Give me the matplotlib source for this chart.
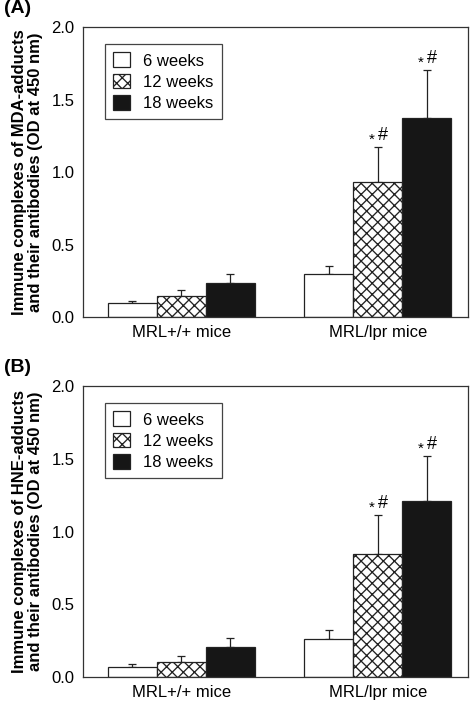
import matplotlib
matplotlib.use("Agg")
import matplotlib.pyplot as plt
import numpy as np

plt.rcParams["font.family"] = ["Liberation Sans", "DejaVu Sans"]
plt.rcParams["hatch.linewidth"] = 0.95

groups = ["MRL+/+ mice", "MRL/lpr mice"]
weeks = ["6 weeks", "12 weeks", "18 weeks"]

# panel A: MDA-adducts
mda_mean = [[0.10, 0.30], [0.145, 0.93], [0.237, 1.37]]
mda_err = [[0.012, 0.055], [0.04, 0.245], [0.06, 0.335]]
# panel B: HNE-adducts
hne_mean = [[0.07, 0.263], [0.103, 0.843], [0.208, 1.209]]
hne_err = [[0.022, 0.062], [0.039, 0.27], [0.059, 0.311]]

sig = [[False, False], [False, True], [False, True]]

colors = ["white", "white", "#161616"]
hatches = [None, "xxx", None]


def panel(ax, means, errs, ylabel, tag):
    x = np.arange(len(groups))
    w = 0.25
    for i in range(3):
        xs = x + (i - 1) * w
        ax.bar(xs, means[i], w, color=colors[i], edgecolor="#222222", lw=0.9,
               hatch=hatches[i], label=weeks[i], zorder=2)
        ax.errorbar(xs, means[i], yerr=[np.zeros(2), errs[i]], fmt="none",
                    ecolor="#222222", elinewidth=0.9, capsize=3, capthick=0.9, zorder=1)
        for j in range(2):
            if sig[i][j]:
                top = means[i][j] + errs[i][j]
                ax.annotate("*", (xs[j], top), xytext=(-4, 0), textcoords="offset points",
                            ha="center", va="bottom", fontsize=11)
                ax.annotate("#", (xs[j], top), xytext=(4, 2), textcoords="offset points",
                            ha="center", va="bottom", fontsize=13)
    ax.set_xlim(-0.5, 1.46)
    ax.set_ylim(0, 2.0)
    ax.set_yticks([0, 0.5, 1.0, 1.5, 2.0])
    ax.set_yticklabels(["0.0", "0.5", "1.0", "1.5", "2.0"])
    ax.set_xticks(x)
    ax.set_xticklabels(groups)
    ax.tick_params(length=0, labelsize=12, pad=6)
    for s in ax.spines.values():
        s.set_color("#333333")
        s.set_linewidth(0.9)
    ax.set_ylabel(ylabel, fontsize=12, fontweight="bold", labelpad=6, linespacing=1.1)
    leg = ax.legend(loc="upper left", bbox_to_anchor=(0.035, 0.97), fontsize=12,
                    fancybox=False, framealpha=1, edgecolor="#444444",
                    handlelength=1.0, handleheight=1.0, handletextpad=0.8,
                    borderpad=0.5, labelspacing=0.3)
    leg.get_frame().set_linewidth(0.9)
    ax.text(-0.205, 1.035, tag, transform=ax.transAxes, fontsize=14,
            fontweight="bold", ha="left", va="bottom")


fig = plt.figure(figsize=(4.7, 7.03), dpi=100)
axA = fig.add_axes([83 / 470, 1 - 317 / 703, 385 / 470, 290 / 703])
axB = fig.add_axes([83 / 470, 1 - 677 / 703, 385 / 470, 291 / 703])
panel(axA, mda_mean, mda_err,
      "Immune complexes of MDA-adducts\nand their antibodies (OD at 450 nm)", "(A)")
panel(axB, hne_mean, hne_err,
      "Immune complexes of HNE-adducts\nand their antibodies (OD at 450 nm)", "(B)")
fig.savefig("out.png", dpi=100)
